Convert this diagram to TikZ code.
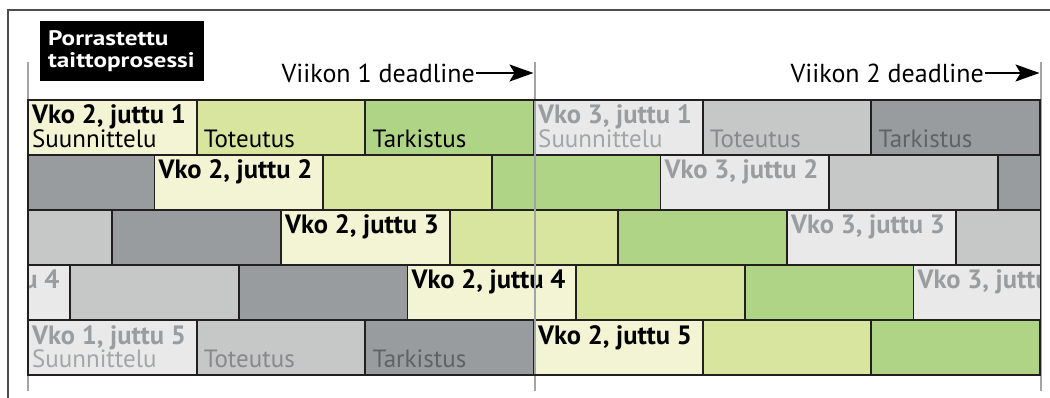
\documentclass[tikz,border=0pt]{standalone}
\usepackage{fontspec}
\setmainfont{PT Sans}
\newfontfamily\titlefont[FakeStretch=1.2]{PT Sans}
\usepackage{tikz}
\usetikzlibrary{arrows.meta,positioning}

\definecolor{edge}{HTML}{231F20}
\definecolor{planY}{HTML}{F2F4D3}
\definecolor{doY}{HTML}{D8E59E}
\definecolor{checkY}{HTML}{AFD485}
\definecolor{planG}{HTML}{E8E9E8}
\definecolor{doG}{HTML}{C6C7C7}
\definecolor{checkG}{HTML}{999C9F}
\definecolor{dlgrey}{HTML}{A2A5A8}
\definecolor{headG}{HTML}{9A9DA0}
\definecolor{subG}{HTML}{A3A6A8}
\definecolor{doTxt}{HTML}{868A8C}
\definecolor{checkTxt}{HTML}{5F6366}

\begin{document}
\begin{tikzpicture}[x=1pt,y=-1pt]
        \tikzstyle{blk}=[draw=edge,line width=1.8pt,minimum width=168.67pt,minimum height=55pt,inner sep=0pt,outer sep=0pt,anchor=north west]
        \tikzstyle{head}=[font=\fontsize{26.5}{28}\selectfont\bfseries,anchor=base west,inner sep=0pt]
        \tikzstyle{sub}=[font=\fontsize{25}{27}\selectfont,anchor=base west,inner sep=0pt]
        \tikzstyle{dl}=[font=\fontsize{26}{28}\selectfont,anchor=east,inner sep=1pt]
        \tikzstyle{dlarrow}=[line width=2pt,-{Stealth[length=24pt,width=17pt,inset=5pt]}]
        \tikzstyle{dline}=[dlgrey,line width=2pt]
        \tikzstyle{title}=[fill=black,text=white,font=\titlefont\fontsize{21}{22.5}\selectfont\bfseries,anchor=north west,minimum width=164pt,minimum height=60pt,text width=148pt,align=left,inner xsep=8pt,inner ysep=0pt]
        \useasboundingbox (0,0) rectangle (1050,398);

        \draw[edge!80,line width=1.2pt] (8,398) -- (8,10) -- (1050,10);
        \node[title] (ttl) at (40,21) {Porrastettu\\taittoprosessi};

        % rows of blocks, one step of 126.5 per row
        \begin{scope}
        \clip (28,100) rectangle (1040.5,375);
        \foreach \r in {1,...,5} {
            \foreach \i/\c in {0/planG,1/doG,2/checkG,3/planY,4/doY,5/checkY,6/planG,7/doG,8/checkG}
                \node[blk,fill=\c] (b\r-\i) at ({28-506+(\r-1)*126.5+\i*168.67},{100+(\r-1)*55}) {};
        }

        \node[head] (h1) at ([shift={(4,24)}]b1-3.north west) {Vko 2, juttu 1};
        \node[sub] (s1a) at ([shift={(4,-7.5)}]b1-3.south west) {Suunnittelu};
        \node[sub] (s1b) at ([shift={(7,-7.5)}]b1-4.south west) {Toteutus};
        \node[sub] (s1c) at ([shift={(7,-7.5)}]b1-5.south west) {Tarkistus};
        \node[head,headG] (g1) at ([shift={(4,24)}]b1-6.north west) {Vko 3, juttu 1};
        \node[sub,subG] (t1a) at ([shift={(4,-7.5)}]b1-6.south west) {Suunnittelu};
        \node[sub,doTxt] (t1b) at ([shift={(7,-7.5)}]b1-7.south west) {Toteutus};
        \node[sub,checkTxt] (t1c) at ([shift={(7,-7.5)}]b1-8.south west) {Tarkistus};

        \node[head] (h2) at ([shift={(4,24)}]b2-3.north west) {Vko 2, juttu 2};
        \node[head,headG] (g2) at ([shift={(4,24)}]b2-6.north west) {Vko 3, juttu 2};

        \node[head] (h3) at ([shift={(4,24)}]b3-3.north west) {Vko 2, juttu 3};
        \node[head,headG] (g3) at ([shift={(4,24)}]b3-6.north west) {Vko 3, juttu 3};

        \node[head,headG] (f4) at ([shift={(4,24)}]b4-0.north west) {Vko 1, juttu 4};
        \node[head] (h4) at ([shift={(4,24)}]b4-3.north west) {Vko 2, juttu 4};
        \node[head,headG] (g4) at ([shift={(4,24)}]b4-6.north west) {Vko 3, juttu 4};

        \node[head,headG] (f5) at ([shift={(4,24)}]b5-0.north west) {Vko 1, juttu 5};
        \node[sub,subG] (u5a) at ([shift={(4,-7.5)}]b5-0.south west) {Suunnittelu};
        \node[sub,doTxt] (u5b) at ([shift={(7,-7.5)}]b5-1.south west) {Toteutus};
        \node[sub,checkTxt] (u5c) at ([shift={(7,-7.5)}]b5-2.south west) {Tarkistus};
        \node[head] (h5) at ([shift={(4,24)}]b5-3.north west) {Vko 2, juttu 5};
        \end{scope}

        % deadlines
        \coordinate (d0a) at (28,62);
        \coordinate (d0b) at (28,391);
        \coordinate (d1a) at (534.5,62);
        \coordinate (d1b) at (534.5,391);
        \coordinate (d2a) at (1040.5,62);
        \coordinate (d2b) at (1040.5,391);
        \draw[dline] (d0a) -- (d0b);
        \draw[dline] (d1a) -- (d1b);
        \draw[dline] (d2a) -- (d2b);
        \draw[edge,line width=1.8pt] (28,100) rectangle (1040.5,375);

        \node[dl] (dl1) at (476,73) {Viikon 1 deadline};
        \node[dl] (dl2) at (985,73) {Viikon 2 deadline};
        \coordinate (e1) at (533.5,73);
        \coordinate (e2) at (1039.5,73);
        \draw[dlarrow] (dl1.east) -- (e1);
        \draw[dlarrow] (dl2.east) -- (e2);
    \end{tikzpicture}
\end{document}
